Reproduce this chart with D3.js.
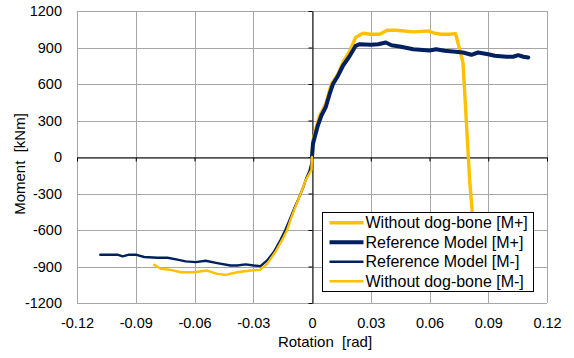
<!DOCTYPE html>
<html>
<head>
<meta charset="utf-8">
<script src="https://cdn.jsdelivr.net/npm/d3@7"></script>
<style>
  body { margin: 0; background: #fff; }
  svg { font-family: "Liberation Sans", Arial, sans-serif; }
</style>
</head>
<body>
<svg id="chart" width="574" height="358"></svg>
<script>
// rotation [rad], moment [kNm]
const withoutPlus = [
  [0, 0], [0.0005, 136], [0.0022, 245], [0.0039, 341], [0.0053, 382], [0.007, 436],
  [0.0099, 600], [0.0133, 682], [0.0158, 777], [0.0193, 873], [0.0223, 982],
  [0.026, 1017], [0.03, 1009], [0.0346, 1009], [0.0384, 1042], [0.0431, 1042],
  [0.0517, 1028], [0.0593, 1036], [0.0626, 1017], [0.066, 1009], [0.0703, 1009],
  [0.0733, 1014], [0.0771, 777], [0.0805, -189], [0.0818, -450], [0.0832, -850]
];
const refPlus = [
  [0, 0], [0.0005, 109], [0.0014, 164], [0.003, 259], [0.0048, 341], [0.007, 409],
  [0.009, 518], [0.0107, 600], [0.0133, 668], [0.0158, 750], [0.0193, 832],
  [0.0223, 914], [0.0244, 927], [0.03, 922], [0.0338, 927], [0.0377, 941],
  [0.0406, 919], [0.0448, 908], [0.0517, 886], [0.06, 876], [0.0634, 886],
  [0.0677, 873], [0.072, 867], [0.0771, 859], [0.0814, 840], [0.0848, 859],
  [0.09, 845], [0.0933, 832], [0.0993, 824], [0.1027, 824], [0.1053, 837],
  [0.1079, 824], [0.1104, 818]
];
const refMinus = [
  [-0.1081, -803], [-0.0993, -803], [-0.0967, -817], [-0.0934, -803], [-0.09, -803],
  [-0.0857, -822], [-0.0789, -828], [-0.0738, -828], [-0.0687, -844], [-0.0645, -858],
  [-0.0594, -864], [-0.0543, -853], [-0.0484, -872], [-0.0416, -892], [-0.0382, -892],
  [-0.034, -883], [-0.0297, -892], [-0.0263, -897], [-0.0229, -850], [-0.0195, -781],
  [-0.0161, -683], [-0.0136, -600], [-0.0115, -520], [-0.009, -420], [-0.0068, -340],
  [-0.0045, -250], [-0.0028, -170], [-0.0012, -110], [-0.0003, -50], [0, 0]
];
const withoutMinus = [
  [-0.0806, -886], [-0.0772, -919], [-0.0721, -928], [-0.067, -947], [-0.0602, -947],
  [-0.0535, -933], [-0.0484, -961], [-0.0441, -969], [-0.0382, -947], [-0.0314, -933],
  [-0.0266, -928], [-0.0229, -878], [-0.0187, -781], [-0.0144, -656], [-0.0127, -600],
  [-0.0108, -510], [-0.0085, -410], [-0.0065, -330], [-0.0048, -260], [-0.0035, -200],
  [-0.0015, -140], [-0.0003, -107], [0, 0]
];

const xTicks = [-0.12, -0.09, -0.06, -0.03, 0, 0.03, 0.06, 0.09, 0.12];
const yTicks = [-1200, -900, -600, -300, 0, 300, 600, 900, 1200];

const series = [
  { name: 'Without dog-bone [M+]', data: withoutPlus, color: '#FFC000', width: 3.4 },
  { name: 'Reference Model [M+]', data: refPlus, color: '#002060', width: 4 },
  { name: 'Reference Model [M-]', data: refMinus, color: '#002060', width: 2.4 },
  { name: 'Without dog-bone [M-]', data: withoutMinus, color: '#FFC000', width: 2.4 }
];

const plot = { left: 77, top: 11, width: 470, height: 292 };

const svg = d3.select('#chart');

const x = d3.scaleLinear().domain([-0.12, 0.12]).range([plot.left, plot.left + plot.width]);
const y = d3.scaleLinear().domain([-1200, 1200]).range([plot.top + plot.height, plot.top]);

const fmtX = d => d === 0 ? '0' : d3.format('.2f')(d).replace('−', '-');

// gridlines
const grid = svg.append('g').attr('stroke', '#a6a6a6').attr('stroke-width', 1);
grid.selectAll('.vg').data(xTicks).enter().append('line')
  .attr('x1', d => Math.round(x(d)) + 0.5).attr('x2', d => Math.round(x(d)) + 0.5)
  .attr('y1', y(1200)).attr('y2', y(-1200));
grid.selectAll('.hg').data(yTicks).enter().append('line')
  .attr('y1', d => Math.round(y(d)) + 0.5).attr('y2', d => Math.round(y(d)) + 0.5)
  .attr('x1', x(-0.12)).attr('x2', x(0.12));

// tick labels along the plot edges
const xLab = svg.append('g')
  .attr('transform', `translate(0, ${plot.top + plot.height})`)
  .call(d3.axisBottom(x).tickValues(xTicks).tickFormat(fmtX).tickSize(0).tickPadding(14.5));
xLab.select('.domain').remove();
xLab.selectAll('text').attr('font-size', 14.5).attr('fill', '#000').attr('font-family', null);

const yLab = svg.append('g')
  .attr('transform', `translate(${plot.left}, 0)`)
  .call(d3.axisLeft(y).tickValues(yTicks).tickFormat(d => String(d)).tickSize(0).tickPadding(15));
yLab.select('.domain').remove();
yLab.selectAll('text').attr('font-size', 14.5).attr('fill', '#000').attr('font-family', null);

// black zero axes with outside ticks
const x0 = Math.round(x(0)) + 0.5;
const y0 = Math.round(y(0)) + 0.5;
const hAxis = svg.append('g')
  .attr('transform', `translate(0, ${y0})`)
  .call(d3.axisBottom(x).tickValues(xTicks).tickFormat('').tickSizeInner(4).tickSizeOuter(0));
hAxis.selectAll('line, path').attr('stroke', '#000');
const vAxis = svg.append('g')
  .attr('transform', `translate(${x0}, 0)`)
  .call(d3.axisLeft(y).tickValues(yTicks).tickFormat('').tickSizeInner(4).tickSizeOuter(0));
vAxis.selectAll('line, path').attr('stroke', '#000');

// curves
const line = d3.line().x(d => x(d[0])).y(d => y(d[1]));
svg.append('g').selectAll('path').data(series).enter().append('path')
  .attr('d', d => line(d.data))
  .attr('fill', 'none')
  .attr('stroke', d => d.color)
  .attr('stroke-width', d => d.width)
  .attr('stroke-linejoin', 'round')
  .attr('stroke-linecap', 'round');

// axis titles
svg.append('text')
  .attr('x', 325).attr('y', 347)
  .attr('text-anchor', 'middle')
  .attr('font-size', 15)
  .attr('xml:space', 'preserve')
  .text('Rotation  [rad]');
svg.append('text')
  .attr('transform', 'translate(25, 164) rotate(-90)')
  .attr('text-anchor', 'middle')
  .attr('font-size', 15)
  .attr('xml:space', 'preserve')
  .text('Moment  [kNm]');

// legend
const legend = svg.append('g').attr('transform', 'translate(322.5, 212.5)');
legend.append('rect')
  .attr('width', 211).attr('height', 79)
  .attr('fill', '#fff').attr('stroke', '#000').attr('stroke-width', 1);
const rows = legend.selectAll('.row').data(series).enter().append('g')
  .attr('transform', (d, i) => `translate(0, ${10.2 + i * 19.5})`);
rows.append('line')
  .attr('x1', 7).attr('x2', 41)
  .attr('stroke', d => d.color)
  .attr('stroke-width', d => d.width);
rows.append('text')
  .attr('x', 43).attr('dy', '0.35em')
  .attr('font-size', 16)
  .attr('fill', '#000')
  .text(d => d.name);
</script>
</body>
</html>
